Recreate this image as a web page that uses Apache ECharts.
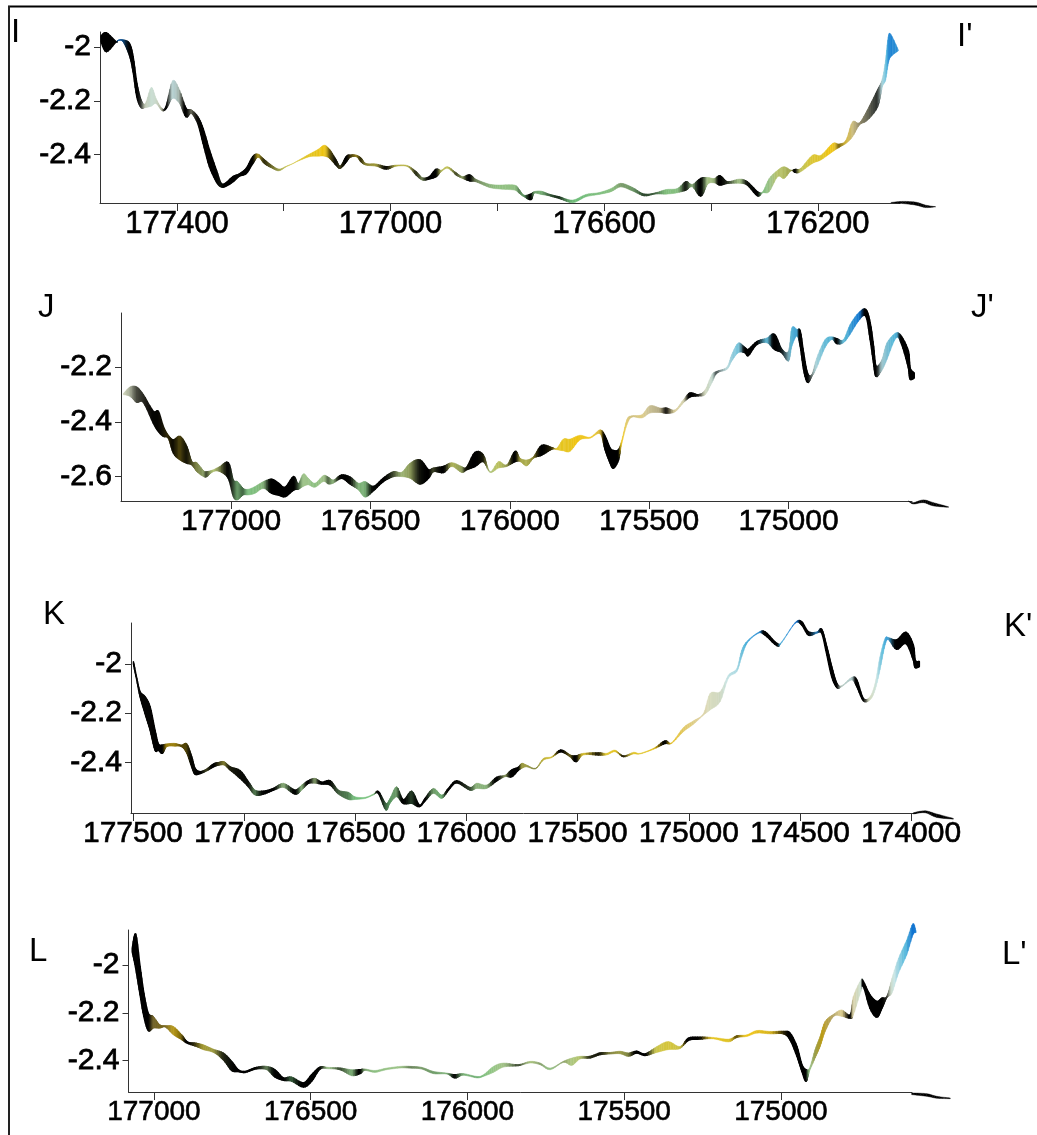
<!DOCTYPE html>
<html>
<head>
<meta charset="utf-8">
<style>html,body{margin:0;padding:0;background:#fff}#chart{width:1037px;height:1135px}</style>
<script src="https://cdn.jsdelivr.net/npm/echarts@6/dist/echarts.min.js"></script>
</head>
<body>
<div id="chart"></div>
<script>
// ---------- Profile I–I' ----------
const iX=[177542,177532,177514,177510,177501,177489,177482,177475,177467,177459,177448,177439,177428,177420,177408,177395,177383,177373,177361,177351,177339,177326,177317,177308,177295,177283,177270,177258,177248,177236,177223,177209,177195,177183,177174,177152,177136,177124,177114,177102,177094,177083,177076,177064,177055,177046,177027,177008,176989,176968,176952,176940,176927,176915,176905,176893,176877,176865,176852,176840,176815,176796,176768,176759,176750,176737,176731,176718,176703,176684,176659,176634,176609,176587,176569,176547,176525,176503,176484,176463,176447,176435,176419,176406,176394,176383,176369,176347,176332,176313,176303,176291,176275,176263,176250,176242,176232,176210,176194,176172,176160,176147,176135,176122,176107,176088,176079,176073,176068,176063,176049];
const iTop=[-1.959,-1.947,-1.980,-1.974,-1.973,-1.986,-2.036,-2.135,-2.197,-2.210,-2.150,-2.191,-2.228,-2.220,-2.125,-2.160,-2.228,-2.234,-2.259,-2.303,-2.383,-2.458,-2.507,-2.505,-2.482,-2.472,-2.451,-2.408,-2.398,-2.420,-2.439,-2.454,-2.443,-2.433,-2.423,-2.398,-2.381,-2.365,-2.381,-2.420,-2.443,-2.408,-2.402,-2.402,-2.414,-2.433,-2.435,-2.445,-2.439,-2.441,-2.464,-2.486,-2.482,-2.455,-2.458,-2.445,-2.468,-2.482,-2.476,-2.492,-2.510,-2.513,-2.513,-2.530,-2.551,-2.547,-2.538,-2.536,-2.547,-2.557,-2.569,-2.548,-2.541,-2.526,-2.507,-2.522,-2.547,-2.542,-2.530,-2.526,-2.501,-2.511,-2.489,-2.485,-2.489,-2.479,-2.501,-2.491,-2.501,-2.538,-2.538,-2.489,-2.458,-2.445,-2.458,-2.455,-2.451,-2.402,-2.402,-2.358,-2.361,-2.346,-2.278,-2.282,-2.234,-2.160,-2.117,-2.048,-1.962,-1.953,-2.011];
const iBottom=[-1.980,-2.017,-1.980,-1.976,-1.980,-2.030,-2.092,-2.185,-2.225,-2.225,-2.220,-2.210,-2.237,-2.228,-2.191,-2.210,-2.259,-2.247,-2.284,-2.358,-2.445,-2.501,-2.520,-2.517,-2.501,-2.480,-2.470,-2.433,-2.410,-2.433,-2.449,-2.460,-2.445,-2.434,-2.425,-2.408,-2.406,-2.406,-2.414,-2.439,-2.451,-2.427,-2.410,-2.408,-2.427,-2.439,-2.443,-2.454,-2.443,-2.445,-2.476,-2.495,-2.490,-2.482,-2.464,-2.451,-2.476,-2.489,-2.497,-2.501,-2.522,-2.528,-2.532,-2.544,-2.557,-2.567,-2.544,-2.548,-2.553,-2.563,-2.579,-2.557,-2.548,-2.538,-2.520,-2.535,-2.553,-2.546,-2.547,-2.542,-2.532,-2.520,-2.554,-2.510,-2.505,-2.513,-2.507,-2.507,-2.513,-2.553,-2.542,-2.538,-2.482,-2.489,-2.460,-2.466,-2.464,-2.433,-2.420,-2.389,-2.373,-2.358,-2.334,-2.290,-2.272,-2.222,-2.148,-2.123,-2.061,-2.036,-2.014];
const iShade=[1,1,1,.3,.4,.9,1,1,.7,.2,.1,.1,.3,1,.15,.3,1,.5,.85,.95,.95,.95,.8,1,1,.9,1,1,.3,.7,.5,.3,.1,0,0,0,0,0,.5,.85,.6,1,.7,.4,.7,.4,.3,.9,.2,.2,.7,.4,1,1,.2,.1,.6,.3,1,.4,.2,.1,.1,.4,.3,1,.3,.2,.5,.7,.1,.1,.1,.1,.3,.3,.6,.5,.1,.1,.8,.2,1,.1,.2,1,.7,.1,.8,1,.1,.1,.1,.15,.3,1,.1,0,0,0,.5,.2,.2,.4,.5,.7,.1,0,0,0,0];
const iTailX=[176063,176041,176016,175998,175979];
const iTailTop=[-2.578,-2.574,-2.577,-2.588,-2.594];
const iTailBottom=[-2.579,-2.582,-2.588,-2.597,-2.594];
const iYTicks=[-2,-2.2,-2.4];
const iXLabels=[177400,177000,176600,176200];
const iXTicks=[177400,177200,177000,176800,176600,176400,176200];

// ---------- Profile J–J' ----------
const jX=[177387,177363,177339,177315,177279,177261,177243,177225,177207,177183,177159,177141,177123,177099,177087,177064,177040,177010,176992,176977,176956,176938,176914,176884,176854,176830,176806,176776,176759,176741,176723,176699,176669,176651,176633,176603,176573,176543,176519,176489,176454,176418,176388,176358,176322,176292,176274,176238,176208,176173,176155,176125,176095,176071,176041,176011,175981,175963,175939,175915,175885,175849,175831,175808,175784,175748,175712,175676,175658,175640,175628,175610,175598,175580,175562,175526,175497,175461,175437,175407,175377,175353,175323,175299,175275,175257,175221,175204,175180,175156,175144,175114,175078,175050,175024,175000,174988,174970,174958,174946,174932,174916,174899,174869,174845,174827,174803,174779,174749,174723,174707,174695,174686,174665,174647,174614,174594,174570,174564,174549];
const jTop=[-2.298,-2.273,-2.273,-2.301,-2.362,-2.362,-2.417,-2.450,-2.466,-2.453,-2.490,-2.545,-2.549,-2.578,-2.582,-2.575,-2.563,-2.549,-2.612,-2.618,-2.643,-2.646,-2.636,-2.618,-2.610,-2.624,-2.639,-2.600,-2.627,-2.590,-2.606,-2.624,-2.596,-2.602,-2.612,-2.594,-2.602,-2.624,-2.618,-2.636,-2.606,-2.582,-2.584,-2.551,-2.539,-2.575,-2.569,-2.563,-2.549,-2.563,-2.566,-2.512,-2.521,-2.582,-2.545,-2.557,-2.508,-2.533,-2.539,-2.527,-2.486,-2.494,-2.496,-2.463,-2.463,-2.449,-2.456,-2.429,-2.453,-2.496,-2.505,-2.502,-2.466,-2.392,-2.378,-2.374,-2.341,-2.350,-2.350,-2.356,-2.319,-2.295,-2.301,-2.283,-2.228,-2.216,-2.200,-2.155,-2.112,-2.130,-2.136,-2.108,-2.094,-2.081,-2.136,-2.142,-2.057,-2.063,-2.069,-2.148,-2.222,-2.228,-2.167,-2.100,-2.090,-2.097,-2.100,-2.045,-2.002,-1.990,-2.039,-2.124,-2.197,-2.173,-2.112,-2.075,-2.090,-2.142,-2.203,-2.222];
const jBottom=[-2.301,-2.307,-2.329,-2.329,-2.405,-2.435,-2.453,-2.460,-2.514,-2.539,-2.551,-2.557,-2.582,-2.600,-2.600,-2.582,-2.582,-2.606,-2.673,-2.685,-2.667,-2.667,-2.661,-2.643,-2.661,-2.667,-2.673,-2.649,-2.646,-2.636,-2.630,-2.639,-2.618,-2.627,-2.624,-2.606,-2.627,-2.649,-2.675,-2.651,-2.618,-2.600,-2.600,-2.606,-2.627,-2.606,-2.582,-2.585,-2.563,-2.585,-2.575,-2.563,-2.545,-2.585,-2.569,-2.563,-2.545,-2.545,-2.561,-2.533,-2.521,-2.500,-2.502,-2.506,-2.508,-2.466,-2.460,-2.444,-2.502,-2.551,-2.569,-2.539,-2.478,-2.411,-2.383,-2.386,-2.368,-2.366,-2.368,-2.364,-2.331,-2.309,-2.305,-2.301,-2.258,-2.222,-2.209,-2.179,-2.148,-2.148,-2.158,-2.118,-2.112,-2.136,-2.148,-2.179,-2.124,-2.087,-2.124,-2.209,-2.256,-2.234,-2.203,-2.130,-2.100,-2.114,-2.112,-2.081,-2.033,-2.014,-2.100,-2.185,-2.234,-2.212,-2.173,-2.094,-2.118,-2.203,-2.244,-2.240];
const jShade=[.1,.3,.6,.7,.9,.9,.8,.7,.85,.6,.8,.6,.4,.3,.6,.1,.4,.9,.6,.3,.5,.1,.1,.2,1,1,1,1,.6,.1,.1,.1,.1,.5,.2,1,.9,.2,.2,.9,1,.6,.2,.3,.8,1,.6,1,.2,.3,.8,1,.8,.1,.1,.3,1,.3,.2,.4,1,.7,0,0,0,0,0,.2,1,1,1,1,0,.1,.2,.1,.2,.3,.8,.1,.1,1,.8,.1,.1,.6,.1,.1,.05,.9,1,1,.1,1,.8,.3,.1,.1,1,1,1,.5,.1,.1,.1,1,.1,.1,0,1,1,1,1,.2,.15,.05,1,1,1,1];
const jTailX=[174570,174552,174516,174480,174426];
const jTailTop=[-2.689,-2.695,-2.685,-2.695,-2.710];
const jTailBottom=[-2.689,-2.700,-2.695,-2.707,-2.712];
const jYTicks=[-2.2,-2.4,-2.6];
const jXLabels=[177000,176500,176000,175500,175000];

// ---------- Profile K–K' ----------
const kX=[177498,177483,177468,177446,177423,177401,177386,177368,177348,177311,177281,177258,177236,177221,177198,177168,177138,177116,177090,177063,177018,176981,176951,176913,176868,176823,176771,176741,176711,176681,176651,176613,176576,176531,176501,176456,176419,176396,176363,176344,176314,176284,176246,176212,176186,176149,176111,176081,176044,175984,175954,175909,175864,175826,175796,175766,175751,175729,175689,175654,175617,175576,175534,175507,175474,175407,175369,175332,175294,175249,175219,175159,175107,175077,175024,174979,174934,174904,174859,174822,174784,174762,174736,174687,174657,174604,174582,174522,174492,174462,174424,174402,174379,174357,174334,174312,174267,174244,174215,174185,174162,174140,174117,174102,174065,174023,173990,173982,173963];
const kTop=[-1.991,-2.058,-2.113,-2.133,-2.174,-2.269,-2.325,-2.330,-2.325,-2.323,-2.330,-2.325,-2.377,-2.424,-2.438,-2.427,-2.407,-2.401,-2.397,-2.418,-2.434,-2.479,-2.513,-2.517,-2.506,-2.485,-2.513,-2.492,-2.475,-2.465,-2.481,-2.475,-2.513,-2.522,-2.540,-2.542,-2.529,-2.519,-2.567,-2.547,-2.499,-2.553,-2.517,-2.574,-2.547,-2.506,-2.533,-2.506,-2.475,-2.502,-2.485,-2.492,-2.461,-2.452,-2.431,-2.420,-2.404,-2.411,-2.424,-2.384,-2.377,-2.350,-2.370,-2.374,-2.363,-2.361,-2.363,-2.350,-2.374,-2.359,-2.363,-2.343,-2.313,-2.320,-2.258,-2.231,-2.201,-2.119,-2.113,-2.045,-2.018,-1.943,-1.905,-1.871,-1.869,-1.916,-1.909,-1.831,-1.828,-1.869,-1.869,-1.859,-1.930,-2.011,-2.079,-2.088,-2.054,-2.065,-2.140,-2.133,-2.079,-1.970,-1.896,-1.892,-1.902,-1.871,-1.923,-1.984,-1.990];
const kBottom=[-2.000,-2.065,-2.133,-2.201,-2.269,-2.350,-2.350,-2.363,-2.336,-2.334,-2.336,-2.363,-2.418,-2.448,-2.445,-2.434,-2.418,-2.411,-2.411,-2.431,-2.465,-2.499,-2.533,-2.529,-2.513,-2.502,-2.529,-2.513,-2.485,-2.485,-2.488,-2.492,-2.529,-2.551,-2.551,-2.547,-2.533,-2.526,-2.594,-2.567,-2.540,-2.567,-2.567,-2.580,-2.556,-2.526,-2.547,-2.513,-2.483,-2.513,-2.506,-2.506,-2.475,-2.458,-2.458,-2.431,-2.424,-2.418,-2.426,-2.391,-2.381,-2.357,-2.377,-2.397,-2.370,-2.370,-2.370,-2.357,-2.377,-2.366,-2.366,-2.347,-2.323,-2.323,-2.275,-2.245,-2.208,-2.187,-2.153,-2.058,-2.031,-1.970,-1.913,-1.875,-1.882,-1.925,-1.913,-1.835,-1.841,-1.882,-1.875,-1.875,-1.963,-2.052,-2.095,-2.092,-2.065,-2.092,-2.149,-2.146,-2.106,-2.024,-1.923,-1.902,-1.940,-1.916,-1.984,-2.014,-2.010];
const kShade=[1,.9,.9,.9,.9,.95,.95,1,.4,.4,.6,.6,.9,.9,1,.6,1,.7,.4,.75,.85,.85,.4,.9,1,.2,1,.2,1,.3,1,.9,.5,.4,.1,0,.1,1,.5,.3,.3,1,.6,1,1,.3,.2,1,.9,.6,.2,.2,1,.3,1,1,.3,.3,.4,.2,.1,1,.5,1,.1,.8,0,0,.8,0,0,.1,1,.1,.1,.1,.1,0,.1,0,0,.1,0,0,1,1,0,0,1,1,.2,1,1,1,1,.2,.2,1,1,0,0,0,0,.1,1,1,1,1,1];
const kTailX=[173990,173937,173885,173810];
const kTailTop=[-2.605,-2.597,-2.610,-2.628];
const kTailBottom=[-2.610,-2.605,-2.624,-2.631];
const kYTicks=[-2,-2.2,-2.4];
const kXLabels=[177500,177000,176500,176000,175500,175000,174500,174000];

// ---------- Profile L–L' ----------
const lX=[177069,177058,177044,177032,177018,177002,176981,176963,176938,176911,176893,176864,176842,176810,176779,176752,176731,176709,176672,176640,176614,176587,176561,176523,176497,176470,176444,176406,176369,176343,176327,176295,176258,176215,176183,176146,176109,176066,176040,176013,175970,175949,175917,175885,175838,175800,175768,175736,175694,175667,175641,175609,175577,175545,175513,175486,175460,175433,175396,175359,175322,175295,175258,175215,175167,175141,175109,175077,175034,174992,174971,174949,174933,174920,174909,174891,174875,174859,174832,174806,174779,174769,174745,174737,174716,174694,174678,174662,174646,174625,174599,174579,174569];
const lTop=[-1.931,-1.871,-2.007,-2.118,-2.202,-2.215,-2.250,-2.254,-2.257,-2.292,-2.322,-2.327,-2.334,-2.352,-2.368,-2.403,-2.438,-2.445,-2.428,-2.424,-2.438,-2.472,-2.468,-2.493,-2.459,-2.427,-2.428,-2.431,-2.438,-2.438,-2.435,-2.441,-2.431,-2.424,-2.424,-2.428,-2.445,-2.452,-2.459,-2.454,-2.466,-2.459,-2.424,-2.410,-2.417,-2.403,-2.410,-2.431,-2.403,-2.389,-2.382,-2.382,-2.368,-2.366,-2.361,-2.368,-2.361,-2.372,-2.341,-2.320,-2.341,-2.306,-2.302,-2.303,-2.310,-2.296,-2.292,-2.274,-2.278,-2.278,-2.285,-2.341,-2.417,-2.438,-2.431,-2.354,-2.299,-2.236,-2.206,-2.188,-2.209,-2.132,-2.063,-2.070,-2.125,-2.153,-2.139,-2.132,-2.056,-1.972,-1.896,-1.827,-1.861];
const lBottom=[-1.945,-2.014,-2.125,-2.215,-2.274,-2.264,-2.264,-2.260,-2.292,-2.313,-2.327,-2.341,-2.354,-2.366,-2.396,-2.441,-2.445,-2.449,-2.434,-2.438,-2.468,-2.482,-2.486,-2.510,-2.486,-2.435,-2.434,-2.438,-2.463,-2.454,-2.441,-2.449,-2.438,-2.431,-2.431,-2.435,-2.454,-2.456,-2.472,-2.461,-2.472,-2.466,-2.449,-2.427,-2.421,-2.410,-2.417,-2.438,-2.407,-2.420,-2.393,-2.389,-2.375,-2.372,-2.371,-2.382,-2.368,-2.378,-2.366,-2.354,-2.350,-2.315,-2.310,-2.309,-2.322,-2.303,-2.299,-2.285,-2.288,-2.288,-2.313,-2.382,-2.445,-2.486,-2.445,-2.389,-2.341,-2.278,-2.215,-2.215,-2.222,-2.209,-2.111,-2.090,-2.181,-2.218,-2.181,-2.135,-2.118,-2.035,-1.959,-1.875,-1.865];
const lShade=[1,1,1,1,1,.5,.5,.5,.3,.5,1,.6,.3,.3,.7,.85,1,1,.9,.4,.9,1,.5,1,1,.9,.1,.6,.2,1,.3,.1,.1,.1,.4,.3,.3,.2,.9,.2,.2,.1,.05,.1,.6,.1,.3,.1,.3,.05,.1,.7,.8,.4,.3,.4,1,1,.02,.02,.1,1,.9,0,.05,.6,0,.1,.2,.7,1,1,1,1,.1,.3,.3,.3,.3,.1,1,.1,.05,1,1,1,1,.7,.02,0,0,0,0];
const lTailX=[174583,174535,174503,174460];
const lTailTop=[-2.535,-2.538,-2.549,-2.556];
const lTailBottom=[-2.542,-2.549,-2.557,-2.559];
const lYTicks=[-2,-2.2,-2.4];
const lXLabels=[177000,176500,176000,175500,175000];

// ---------- Layout and colour (styling only) ----------
const colorStops=[[0,[115,194,125]],[.1,[168,201,140]],[.3,[240,196,15]],[.46,[227,214,163]],[.68,[200,228,228]],[.86,[85,185,220]],[1,[10,111,208]]];
function ramp(t){
  t=Math.max(0,Math.min(1,t));
  for(let i=1;i<colorStops.length;i++){
    if(t<=colorStops[i][0]){
      const a=colorStops[i-1],b=colorStops[i],f=(t-a[0])/(b[0]-a[0]);
      return a[1].map((v,k)=>v+(b[1][k]-v)*f);
    }
  }
  return colorStops[colorStops.length-1][1];
}
function cr(a,b,c,d,f){ // Catmull-Rom, the curve drawn through read points
  return .5*((2*b)+(c-a)*f+(2*a-5*b+4*c-d)*f*f+(3*b-a-3*c+d)*f*f*f);
}
function ribbon(x,top,bot,shade,lo,hi,gain){
  const n=x.length,g=i=>Math.max(0,Math.min(n-1,i));
  return function(params,api){
    const i=params.dataIndex;
    if(i>=n-1) return null;
    const a=g(i-1),b=i,c=i+1,d=g(i+2),steps=5,children=[];
    const pt=f=>{
      const xx=cr(x[a],x[b],x[c],x[d],f);
      const tt=cr(top[a],top[b],top[c],top[d],f);
      let bb=cr(bot[a],bot[b],bot[c],bot[d],f);
      if(bb>tt) bb=tt;
      return {t:api.coord([xx,tt]),b:api.coord([xx,bb]),m:(tt+bb)/2,s:shade[b]+(shade[c]-shade[b])*f};
    };
    let p=pt(0);
    for(let k=1;k<=steps;k++){
      const q=pt(k/steps);
      const rgb=ramp(((p.m+q.m)/2-lo)/(hi-lo));
      const r=(p.s+q.s)/2;
      const s=r*r*(3-2*r);
      const col='rgb('+rgb.map(v=>Math.round(v*(1-s))).join(',')+')';
      children.push({type:'polygon',shape:{points:[p.t,q.t,q.b,p.b]},style:{fill:col,stroke:col,lineWidth:.4+gain*s,lineJoin:'round'},silent:true});
      p=q;
    }
    return {type:'group',children};
  };
}

const panels=[
 {x:iX,top:iTop,bot:iBottom,sh:iShade,tx:iTailX,tt:iTailTop,tb:iTailBottom,lo:-2.56,hi:-1.97,
  left:100,topPx:32,w:800,h:171,xMin:176046,xMax:177544,yMin:-2.58,yMax:-1.944,yT:iYTicks,xL:iXLabels,xT:iXTicks,fs:31},
 {x:jX,top:jTop,bot:jBottom,sh:jShade,tx:jTailX,tt:jTailTop,tb:jTailBottom,lo:-2.67,hi:-2.0,
  left:121,topPx:313,w:791,h:188,xMin:174557,xMax:177395,yMin:-2.689,yMax:-2.003,yT:jYTicks,xL:jXLabels,xT:jXLabels,fs:30},
 {x:kX,top:kTop,bot:kBottom,sh:kShade,tx:kTailX,tt:kTailTop,tb:kTailBottom,lo:-2.55,hi:-1.83,
  left:131,topPx:623,w:785,h:190,xMin:173978,xMax:177509,yMin:-2.606,yMax:-1.833,yT:kYTicks,xL:kXLabels,xT:kXLabels,fs:30},
 {x:lX,top:lTop,bot:lBottom,sh:lShade,tx:lTailX,tt:lTailTop,tb:lTailBottom,lo:-2.48,hi:-1.85,
  left:128.5,topPx:930,w:783.5,h:162,xMin:174582,xMax:177081,yMin:-2.531,yMax:-1.854,yT:lYTicks,xL:lXLabels,xT:lXLabels,fs:28}
];

const axisColor='#333';
const grid=[],xAxis=[],yAxis=[],series=[];
panels.forEach((p,i)=>{
  grid.push({left:p.left,top:p.topPx,width:p.w,height:p.h});
  xAxis.push({type:'value',gridIndex:i,inverse:true,min:p.xMin,max:p.xMax,position:'bottom',
    axisLine:{show:true,onZero:false,lineStyle:{color:axisColor,width:1}},
    axisTick:{show:true,length:8,customValues:p.xT,lineStyle:{color:axisColor}},
    axisLabel:{show:true,customValues:p.xL,margin:6,hideOverlap:false,formatter:v=>String(v),
      fontFamily:'Liberation Sans',fontSize:p.fs,color:'#000',textBorderColor:'#000',textBorderWidth:.6},
    splitLine:{show:false}});
  yAxis.push({type:'value',gridIndex:i,min:p.yMin,max:p.yMax,position:'left',
    axisLine:{show:true,onZero:false,lineStyle:{color:axisColor,width:1}},
    axisTick:{show:true,length:6,customValues:p.yT,lineStyle:{color:axisColor}},
    axisLabel:{show:true,customValues:p.yT,margin:9,hideOverlap:false,formatter:v=>String(v),
      fontFamily:'Liberation Sans',fontSize:30,color:'#000',textBorderColor:'#000',textBorderWidth:.8},
    splitLine:{show:false}});
  series.push({type:'custom',xAxisIndex:i,yAxisIndex:i,clip:false,silent:true,animation:false,z:3,
    encode:{x:0,y:[1,2]},
    data:p.x.map((v,k)=>[v,p.top[k],p.bot[k]]),
    renderItem:ribbon(p.x,p.top,p.bot,p.sh,p.lo,p.hi,1.1)});
  const tailShade=p.tx.map(()=>1);
  series.push({type:'custom',xAxisIndex:i,yAxisIndex:i,clip:false,silent:true,animation:false,z:3,
    encode:{x:0,y:[1,2]},
    data:p.tx.map((v,k)=>[v,p.tt[k],p.tb[k]]),
    renderItem:ribbon(p.tx,p.tt,p.tb,tailShade,p.lo,p.hi,0)});
});

const letters=[['I',11,49],["I'",957,53],['J',38,324],["J'",971,324],['K',43,631],["K'",1004,643],['L',29,968],["L'",1002,971]];
const graphic=[
  {type:'line',shape:{x1:8,y1:6.5,x2:1037,y2:6.5},style:{stroke:'#000',lineWidth:2}},
  {type:'line',shape:{x1:9,y1:6,x2:9,y2:1135},style:{stroke:'#222',lineWidth:2}}
].concat(letters.map(l=>({type:'text',x:l[1],y:l[2],style:{text:l[0],fill:'#000',font:'33px "Liberation Sans"',verticalAlign:'bottom'}})));

const chart=echarts.init(document.getElementById('chart'),null,{renderer:'canvas'});
chart.setOption({animation:false,backgroundColor:'#fff',grid,xAxis,yAxis,series,graphic});
</script>
</body>
</html>
